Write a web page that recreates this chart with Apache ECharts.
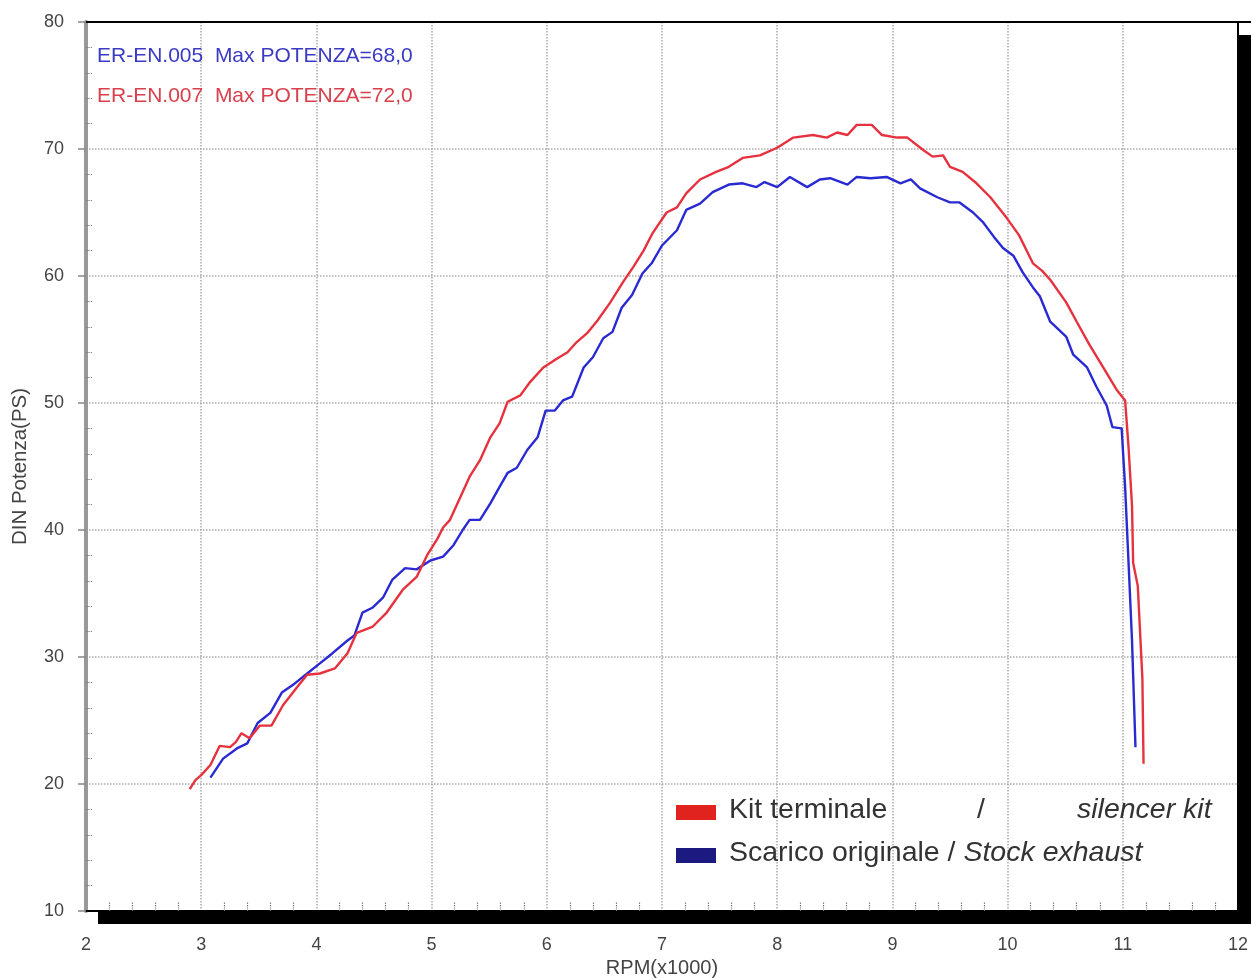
<!DOCTYPE html>
<html>
<head>
<meta charset="utf-8">
<script src="https://cdn.jsdelivr.net/npm/echarts@6/dist/echarts.min.js"></script>
<style>
html,body{margin:0;padding:0;background:#fff;}
#chart{width:1253px;height:978px;}
</style>
</head>
<body>
<div id="chart"></div>
<script>
// Tick values
const xTicks = [2, 3, 4, 5, 6, 7, 8, 9, 10, 11, 12];
const yTicks = [10, 20, 30, 40, 50, 60, 70, 80];

// Kit terminale / silencer kit (red)
const kitRpm = [2.90,2.95,3.00,3.08,3.16,3.25,3.30,3.35,3.42,3.51,3.61,3.71,3.83,3.92,4.03,4.16,4.27,4.35,4.49,4.61,4.75,4.87,4.96,5.05,5.10,5.16,5.25,5.33,5.42,5.51,5.59,5.66,5.77,5.85,5.97,6.09,6.18,6.26,6.35,6.44,6.55,6.66,6.75,6.84,6.92,7.04,7.13,7.21,7.33,7.47,7.58,7.70,7.85,8.00,8.14,8.31,8.43,8.52,8.61,8.69,8.82,8.91,9.04,9.13,9.27,9.35,9.44,9.50,9.61,9.73,9.85,9.99,10.10,10.22,10.30,10.37,10.51,10.60,10.71,10.83,10.95,11.02,11.05,11.08,11.09,11.13,11.17,11.18];
const kitPower = [19.6,20.3,20.7,21.5,23.0,22.9,23.3,24.0,23.6,24.6,24.6,26.2,27.6,28.6,28.7,29.1,30.3,31.9,32.4,33.5,35.3,36.3,38.0,39.3,40.2,40.8,42.6,44.2,45.5,47.3,48.4,50.1,50.6,51.6,52.8,53.5,54.0,54.8,55.5,56.5,57.9,59.5,60.7,62.0,63.4,65.0,65.4,66.5,67.6,68.2,68.6,69.3,69.5,70.1,70.9,71.1,70.9,71.3,71.1,71.9,71.9,71.1,70.9,70.9,69.9,69.4,69.5,68.6,68.2,67.3,66.2,64.6,63.2,61.0,60.4,59.7,57.9,56.4,54.6,52.8,51.0,50.2,46.5,41.9,37.4,35.6,28.3,21.6];

// Scarico originale / Stock exhaust (blue)
const stockRpm = [3.08,3.19,3.31,3.40,3.49,3.60,3.70,3.81,3.92,4.03,4.14,4.27,4.33,4.40,4.49,4.58,4.66,4.77,4.87,4.99,5.10,5.19,5.27,5.33,5.42,5.51,5.59,5.66,5.74,5.83,5.92,5.99,6.07,6.14,6.22,6.32,6.40,6.49,6.57,6.65,6.74,6.83,6.91,7.00,7.13,7.21,7.33,7.44,7.58,7.70,7.82,7.89,8.00,8.11,8.26,8.37,8.46,8.61,8.69,8.81,8.95,9.07,9.16,9.24,9.39,9.50,9.58,9.70,9.79,9.88,9.96,10.05,10.13,10.22,10.28,10.37,10.51,10.57,10.69,10.77,10.86,10.91,10.99,11.02,11.05,11.08,11.11];
const stockPower = [20.5,22.0,22.8,23.2,24.8,25.6,27.2,27.9,28.7,29.5,30.3,31.3,31.7,33.5,33.9,34.7,36.1,37.0,36.9,37.6,37.9,38.8,40.0,40.8,40.8,42.1,43.4,44.5,44.9,46.3,47.3,49.4,49.4,50.2,50.5,52.8,53.6,55.1,55.6,57.5,58.5,60.2,61.0,62.4,63.6,65.2,65.7,66.6,67.2,67.3,67.0,67.4,67.0,67.8,67.0,67.6,67.7,67.2,67.8,67.7,67.8,67.3,67.6,66.9,66.2,65.8,65.8,65.0,64.2,63.1,62.2,61.6,60.3,59.1,58.4,56.4,55.2,53.8,52.8,51.3,49.8,48.1,48.0,43.4,37.4,31.3,22.9];

const zip = (xs, ys) => xs.map((x, i) => [x, ys[i]]);

const chart = echarts.init(document.getElementById('chart'), null, {renderer: 'canvas'});
const FONT = 'Liberation Sans, Arial, sans-serif';
const xMin = xTicks[0], xMax = xTicks[xTicks.length - 1];
const yMin = yTicks[0], yMax = yTicks[yTicks.length - 1];

const option = {
  animation: false,
  backgroundColor: '#fff',
  grid: {
    left: 86, right: 15, top: 22, bottom: 67,
    outerBoundsMode: 'none', containLabel: false,
    show: true, backgroundColor: '#fff', borderColor: '#000', borderWidth: 2
  },
  xAxis: [{
    type: 'value', min: xMin, max: xMax, interval: 1,
    name: 'RPM(x1000)', nameLocation: 'middle', nameGap: 46,
    nameTextStyle: {fontFamily: FONT, fontSize: 20, color: '#444'},
    axisLine: {show: true, lineStyle: {color: '#000', width: 2}},
    axisTick: {show: false},
    axisLabel: {fontFamily: FONT, fontSize: 18, color: '#444', margin: 25},
    splitLine: {show: true, showMinLine: false, showMaxLine: false,
      lineStyle: {color: '#aaa', type: 'dotted', width: 1.5}}
  }, {
    type: 'value', min: xMin, max: xMax, interval: 1,
    position: 'bottom',
    axisLine: {show: false},
    axisTick: {show: false, inside: true},
    minorTick: {show: true, splitNumber: 5, length: 9, lineStyle: {color: '#666', type: 'dotted', width: 1.2}},
    axisLabel: {show: false},
    splitLine: {show: false}
  }],
  yAxis: [{
    type: 'value', min: yMin, max: yMax, interval: 10,
    name: 'DIN Potenza(PS)', nameLocation: 'middle', nameGap: 55, nameRotate: 90,
    nameTextStyle: {fontFamily: FONT, fontSize: 20.5, color: '#444'},
    axisLine: {show: true, lineStyle: {color: '#999', width: 4}},
    axisTick: {show: true, length: 8, lineStyle: {color: '#888', width: 1.5}},
    axisLabel: {fontFamily: FONT, fontSize: 18, color: '#444', margin: 22},
    splitLine: {show: true, showMinLine: false, showMaxLine: false,
      lineStyle: {color: '#aaa', type: 'dotted', width: 1.5}}
  }, {
    type: 'value', min: yMin, max: yMax, interval: 10,
    position: 'left',
    axisLine: {show: false},
    axisTick: {show: false, inside: true},
    minorTick: {show: true, splitNumber: 5, length: 6, lineStyle: {color: '#777', type: 'dotted', width: 1.2}},
    axisLabel: {show: false},
    splitLine: {show: false}
  }],
  series: [{
    name: 'Scarico originale / Stock exhaust',
    type: 'line', xAxisIndex: 0, yAxisIndex: 0,
    data: zip(stockRpm, stockPower),
    showSymbol: false, smooth: false,
    lineStyle: {color: '#2a2ad2', width: 2.4},
    z: 3
  }, {
    name: 'Kit terminale / silencer kit',
    type: 'line', xAxisIndex: 0, yAxisIndex: 0,
    data: zip(kitRpm, kitPower),
    showSymbol: false, smooth: false,
    lineStyle: {color: '#e6323e', width: 2.4},
    z: 4
  }]
};
chart.setOption(option);

// Drop-shadow frame derived from the grid corners
const tl = chart.convertToPixel({gridIndex: 0}, [xMin, yMax]);
const br = chart.convertToPixel({gridIndex: 0}, [xMax, yMin]);
const off = 13;
chart.setOption({
  graphic: [
    {type: 'rect', z: 20, silent: true,
     shape: {x: br[0], y: tl[1] + off, width: off, height: br[1] - tl[1]},
     style: {fill: '#000'}},
    {type: 'rect', z: 20, silent: true,
     shape: {x: tl[0] + off - 1, y: br[1], width: br[0] - tl[0] + 1, height: off},
     style: {fill: '#000'}},
    {type: 'line', z: 20, silent: true,
     shape: {x1: tl[0], y1: tl[1], x2: br[0] + off, y2: tl[1]},
     style: {stroke: '#000', lineWidth: 2}},
    {type: 'text', left: 97, top: 46, z: 10,
     style: {text: 'ER-EN.005  Max POTENZA=68,0', fill: '#3a3ac4', font: '21px ' + FONT}},
    {type: 'text', left: 97, top: 86, z: 10,
     style: {text: 'ER-EN.007  Max POTENZA=72,0', fill: '#d8404c', font: '21px ' + FONT}},
    {type: 'rect', left: 676, top: 805, z: 10,
     shape: {width: 40, height: 15}, style: {fill: '#e0231f'}},
    {type: 'rect', left: 676, top: 848, z: 10,
     shape: {width: 40, height: 15}, style: {fill: '#1c1a80'}},
    {type: 'text', left: 729, top: 796, z: 10,
     style: {text: 'Kit terminale', fill: '#333', font: '28.5px ' + FONT}},
    {type: 'text', left: 977, top: 796, z: 10,
     style: {text: '/', fill: '#333', font: '28.5px ' + FONT}},
    {type: 'text', left: 1077, top: 796, z: 10,
     style: {text: 'silencer kit', fill: '#333', font: 'italic 28.5px ' + FONT}},
    {type: 'text', left: 729, top: 839, z: 10,
     style: {
       text: '{n|Scarico originale / }{i|Stock exhaust}', fill: '#333',
       rich: {
         n: {font: '28.5px ' + FONT, fill: '#333'},
         i: {font: 'italic 28.5px ' + FONT, fill: '#333'}
       }
     }}
  ]
});
</script>
</body>
</html>
